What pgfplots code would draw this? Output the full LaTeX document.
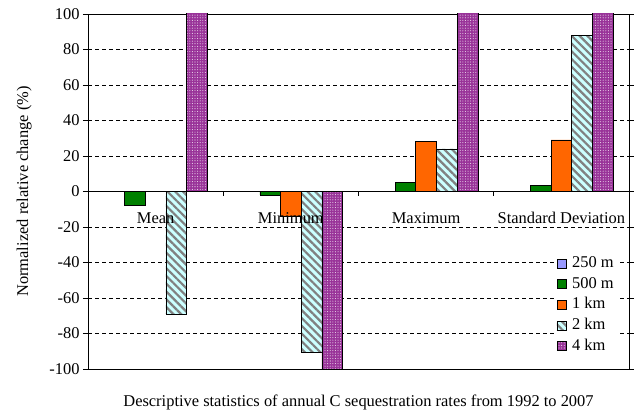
\documentclass[border=0pt]{standalone}
\usepackage{pgfplots}
\pgfplotsset{compat=1.18}
\usepackage{pgfplotstable}
\usepackage{fontspec}
\setmainfont{Liberation Serif}
\usetikzlibrary{patterns.meta}
\definecolor{c250}{RGB}{153,153,255}
\definecolor{c500}{RGB}{0,128,0}
\definecolor{c1k}{RGB}{255,102,0}
\definecolor{c2k}{RGB}{204,255,255}
\definecolor{c4k}{RGB}{153,51,153}

\pgfplotstableread{
x m250 m500 k1 k2 k4
0 0 -7.5 0 -69 150
1 0 -1.9 -14 -90.5 -150
2 0 5.3 28.4 24 150
3 0 3.4 29.1 88.1 150
}\data

\begin{document}
\begin{tikzpicture}
\useasboundingbox (0,0) rectangle (634bp,413bp);
\begin{axis}[
  at={(88bp,44bp)}, anchor=south west,
  width=541bp, height=355bp, scale only axis,
  font=\fontsize{16.5}{19}\selectfont,
  xmin=-0.5, xmax=3.5, ymin=-100, ymax=100,
  ybar=0pt, bar width=20.7bp,
  xtick={0,1,2,3}, xticklabels={},
  xtick style={draw=none},
  ytick={-100,-80,...,100},
  yticklabels={-100,-80,-60,-40,-20,0,20,40,60,80,100},
  tick align=outside, major tick length=5bp,
  ytick style={black, line width=0.8bp},
  ymajorgrids, major grid style={black, dash pattern=on 4bp off 3bp, line width=0.7bp},
  axis line style={black, line width=0.8bp},
  ylabel={Normalized relative change (\%)},
  ylabel style={at={(axis description cs:-0.118,0.5)}, anchor=center},
  xlabel={Descriptive statistics of annual C sequestration rates from 1992 to 2007},
  xlabel style={at={(axis description cs:0.5,-0.093)}, anchor=center},
  legend style={at={(axis description cs:0.862,0.329)}, anchor=north west,
    draw=none, fill=white, row sep=2.7bp, inner sep=2bp,
    nodes={inner sep=1bp, text height=12bp, text depth=4bp},
    /tikz/every odd column/.append style={column sep=5bp},
    font=\fontsize{16.5}{19}\selectfont},
  legend cell align=left,
  legend image code/.code={\draw[#1, line width=0.6bp] (0bp,-4.5bp) rectangle (9bp,4.5bp);},
]
\addplot[fill=c250, draw=black, line width=0.6bp] table[x=x, y=m250] {\data};
\addplot[fill=c500, draw=black, line width=0.6bp] table[x=x, y=m500] {\data};
\addplot[fill=c1k, draw=black, line width=0.6bp] table[x=x, y=k1] {\data};
\addplot[fill=c2k, draw=black, line width=0.6bp,
  postaction={pattern={Lines[angle=-45,distance=5.5bp,line width=2.2bp]}, pattern color=gray}]
  table[x=x, y=k2] {\data};
\addplot[fill=c4k, draw=black, line width=0.6bp,
  postaction={pattern={Dots[distance=2.6bp,radius=0.55bp]}, pattern color=white!80!c4k}]
  table[x=x, y=k4] {\data};
\legend{250 m, 500 m, 1 km, 2 km, 4 km}
\draw[black, line width=0.8bp] (axis cs:-0.5,0) -- (axis cs:3.5,0);
\draw[black, line width=0.8bp] (axis cs:0.5,0) -- ([yshift=-5bp]axis cs:0.5,0);
\draw[black, line width=0.8bp] (axis cs:1.5,0) -- ([yshift=-5bp]axis cs:1.5,0);
\draw[black, line width=0.8bp] (axis cs:2.5,0) -- ([yshift=-5bp]axis cs:2.5,0);
\node[anchor=base, inner sep=0pt] at ([yshift=-32bp]axis cs:0,0) {Mean};
\node[anchor=base, inner sep=0pt] at ([yshift=-32bp]axis cs:1,0) {Minimum};
\node[anchor=base, inner sep=0pt] at ([yshift=-32bp]axis cs:2,0) {Maximum};
\node[anchor=base, inner sep=0pt] at ([yshift=-32bp]axis cs:3,0) {Standard Deviation};
\end{axis}
\end{tikzpicture}
\end{document}
